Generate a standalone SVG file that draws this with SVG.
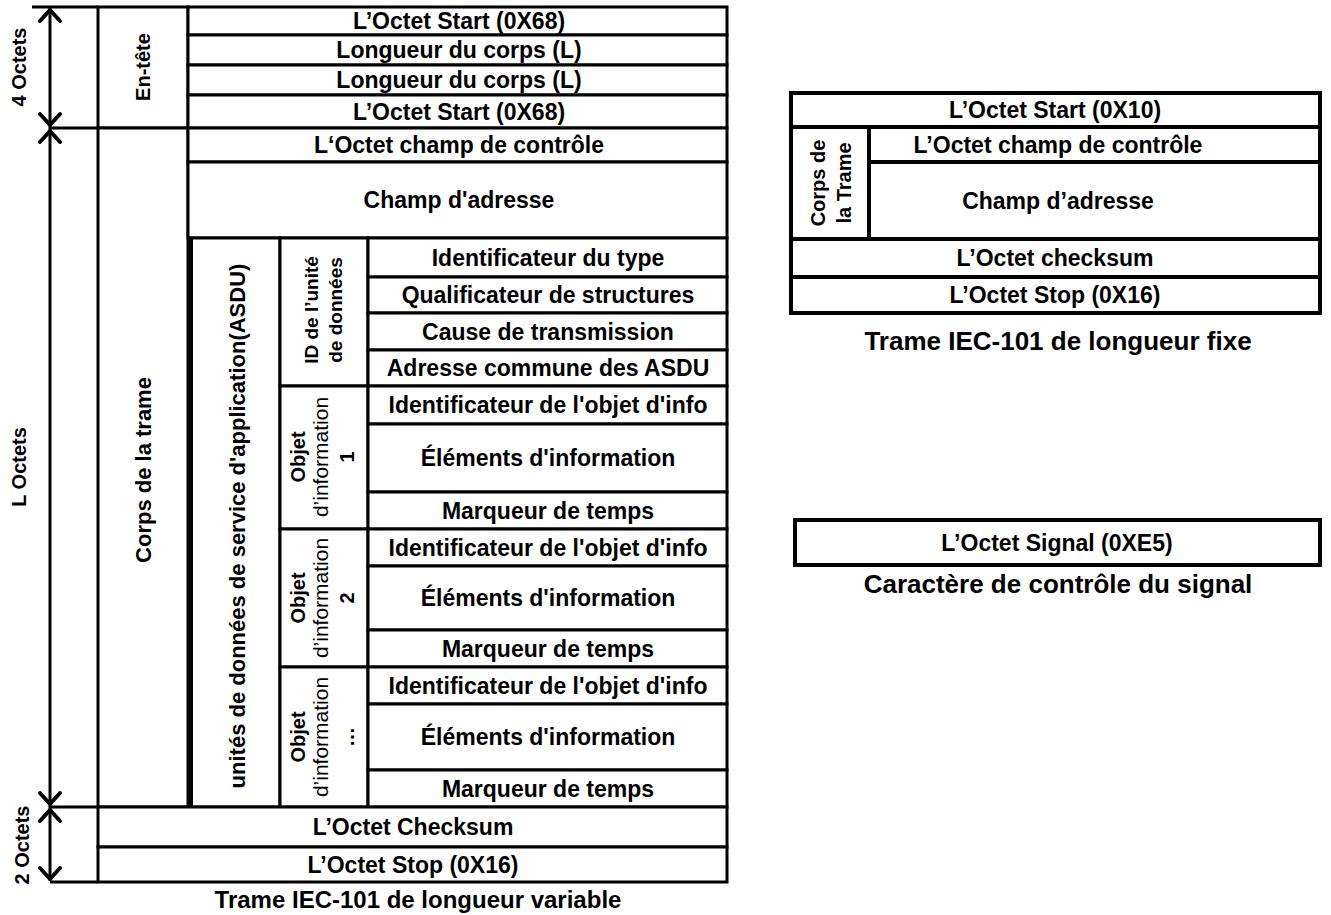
<svg xmlns="http://www.w3.org/2000/svg" width="1331" height="915" viewBox="0 0 1331 915">
<style>
  .c{fill:#fff;stroke:#000;stroke-width:3}
  .f{fill:#fff;stroke:#000;stroke-width:4}
  .ln{fill:none;stroke:#000;stroke-width:3}
  .hd{fill:none;stroke:#000;stroke-width:4;stroke-linecap:round;stroke-linejoin:round}
  text{font-family:"Liberation Sans",Arial,sans-serif;font-weight:bold;fill:#000;text-anchor:middle;dominant-baseline:central}
  .t{font-size:23px}
  .cap{font-size:26px}
  .v{font-size:20px}
  .s{font-size:19px}
  .n{font-weight:normal;font-size:21px}
</style>
<rect width="1331" height="915" fill="#fff"/>

<!-- dimension arrows on the left -->
<g id="connectors">
  <line class="ln" x1="32" y1="7" x2="98" y2="7"/>
  <line class="ln" x1="50" y1="128" x2="98" y2="128"/>
  <line class="ln" x1="50" y1="807" x2="98" y2="807"/>
  <line class="ln" x1="50" y1="882" x2="98" y2="882"/>
  <line class="ln" x1="50" y1="8" x2="50" y2="881"/>
  <polyline class="hd" points="40,21 50,10 60,21"/>
  <polyline class="hd" points="40,114 50,125 60,114"/>
  <polyline class="hd" points="40,142 50,131 60,142"/>
  <polyline class="hd" points="40,793 50,804 60,793"/>
  <polyline class="hd" points="40,821 50,810 60,821"/>
  <polyline class="hd" points="40,868 50,879 60,868"/>
</g>
<g id="dim-4">
  <text class="v" transform="translate(19,67) rotate(-90)">4 Octets</text>
</g>
<g id="dim-l">
  <text class="v" transform="translate(19,467) rotate(-90)">L Octets</text>
</g>
<g id="dim-2">
  <text class="v" transform="translate(22,845) rotate(-90)">2 Octets</text>
</g>

<!-- variable-length frame -->
<g id="entete"><rect class="c" x="98" y="7" width="90" height="121"/>
  <text class="v" transform="translate(143,67) rotate(-90)">En-tête</text></g>
<g id="corps"><rect class="c" x="98" y="128" width="90" height="679"/>
  <text class="t" transform="translate(143,470) rotate(-90)" style="font-size:22px">Corps de la trame</text></g>

<g id="start1"><rect class="c" x="188" y="7" width="539" height="28"/>
  <text class="t" x="459" y="21">L’Octet Start (0X68)</text></g>
<g id="len1"><rect class="c" x="188" y="35" width="539" height="30"/>
  <text class="t" x="459" y="50">Longueur du corps (L)</text></g>
<g id="len2"><rect class="c" x="188" y="65" width="539" height="30"/>
  <text class="t" x="459" y="80">Longueur du corps (L)</text></g>
<g id="start2"><rect class="c" x="188" y="95" width="539" height="33"/>
  <text class="t" x="459" y="111.5">L’Octet Start (0X68)</text></g>
<g id="ctrl"><rect class="c" x="188" y="128" width="539" height="34"/>
  <text class="t" x="459" y="145">L‘Octet champ de contrôle</text></g>
<g id="addr"><rect class="c" x="188" y="162" width="539" height="76"/>
  <text class="t" x="459" y="200">Champ d'adresse</text></g>

<g id="asdu"><rect class="c" x="190" y="238" width="90" height="569"/>
  <line x1="190" y1="238" x2="190" y2="807" stroke="#000" stroke-width="6"/>
  <text class="t" transform="translate(237,526) rotate(-90)" style="font-size:22px">unités de données de service d'application(ASDU)</text></g>

<g id="id-unite"><rect class="c" x="280" y="238" width="88" height="148"/>
  <text class="s" transform="translate(311,310) rotate(-90)">ID de l’unité</text>
  <text class="s" transform="translate(335,310) rotate(-90)">de données</text></g>
<g id="objet1"><rect class="c" x="280" y="386" width="88" height="143"/>
  <text class="v" transform="translate(298,457) rotate(-90)">Objet</text>
  <text class="n" transform="translate(320,457) rotate(-90)">d’information</text>
  <text class="v" transform="translate(347,457) rotate(-90)">1</text></g>
<g id="objet2"><rect class="c" x="280" y="529" width="88" height="138"/>
  <text class="v" transform="translate(298,598) rotate(-90)">Objet</text>
  <text class="n" transform="translate(320,598) rotate(-90)">d’information</text>
  <text class="v" transform="translate(347,598) rotate(-90)">2</text></g>
<g id="objet3"><rect class="c" x="280" y="667" width="88" height="140"/>
  <text class="v" transform="translate(298,737) rotate(-90)">Objet</text>
  <text class="n" transform="translate(320,737) rotate(-90)">d’information</text>
  <text class="v" transform="translate(347,737) rotate(-90)">…</text></g>

<g id="type"><rect class="c" x="368" y="238" width="359" height="39"/>
  <text class="t" x="548" y="258">Identificateur du type</text></g>
<g id="qualif"><rect class="c" x="368" y="277" width="359" height="36"/>
  <text class="t" x="548" y="295">Qualificateur de structures</text></g>
<g id="cause"><rect class="c" x="368" y="313" width="359" height="37"/>
  <text class="t" x="548" y="331.5">Cause de transmission</text></g>
<g id="commune"><rect class="c" x="368" y="350" width="359" height="36"/>
  <text class="t" x="548" y="368">Adresse commune des ASDU</text></g>

<g id="o1-id"><rect class="c" x="368" y="386" width="359" height="38"/>
  <text class="t" x="548" y="405">Identificateur de l'objet d'info</text></g>
<g id="o1-el"><rect class="c" x="368" y="424" width="359" height="68"/>
  <text class="t" x="548" y="458">Éléments d'information</text></g>
<g id="o1-tm"><rect class="c" x="368" y="492" width="359" height="37"/>
  <text class="t" x="548" y="510.5">Marqueur de temps</text></g>

<g id="o2-id"><rect class="c" x="368" y="529" width="359" height="37"/>
  <text class="t" x="548" y="547.5">Identificateur de l'objet d'info</text></g>
<g id="o2-el"><rect class="c" x="368" y="566" width="359" height="64"/>
  <text class="t" x="548" y="598">Éléments d'information</text></g>
<g id="o2-tm"><rect class="c" x="368" y="630" width="359" height="37"/>
  <text class="t" x="548" y="648.5">Marqueur de temps</text></g>

<g id="o3-id"><rect class="c" x="368" y="667" width="359" height="37"/>
  <text class="t" x="548" y="685.5">Identificateur de l'objet d'info</text></g>
<g id="o3-el"><rect class="c" x="368" y="704" width="359" height="66"/>
  <text class="t" x="548" y="737">Éléments d'information</text></g>
<g id="o3-tm"><rect class="c" x="368" y="770" width="359" height="37"/>
  <text class="t" x="548" y="788.5">Marqueur de temps</text></g>

<g id="checksum"><rect class="c" x="98" y="807" width="629" height="40"/>
  <text class="t" x="413" y="827">L’Octet Checksum</text></g>
<g id="stop"><rect class="c" x="98" y="847" width="629" height="35"/>
  <text class="t" x="413" y="864.5">L’Octet Stop (0X16)</text></g>
<g id="cap-var"><text class="cap" x="418" y="899" style="font-size:24px">Trame IEC-101 de longueur variable</text></g>

<!-- fixed-length frame -->
<g id="f-start"><rect class="f" x="791" y="93" width="529" height="34"/>
  <text class="t" x="1055" y="110">L’Octet Start (0X10)</text></g>
<g id="f-corps"><rect class="f" x="791" y="127" width="78" height="112"/>
  <text class="v" transform="translate(818,183) rotate(-90)">Corps de</text>
  <text class="v" transform="translate(844,183) rotate(-90)">la Trame</text></g>
<g id="f-ctrl"><rect class="f" x="869" y="127" width="451" height="35"/>
  <text class="t" x="1058" y="145">L’Octet champ de contrôle</text></g>
<g id="f-addr"><rect class="f" x="869" y="162" width="451" height="77"/>
  <text class="t" x="1058" y="201">Champ d’adresse</text></g>
<g id="f-check"><rect class="f" x="791" y="239" width="529" height="38"/>
  <text class="t" x="1055" y="258">L’Octet checksum</text></g>
<g id="f-stop"><rect class="f" x="791" y="277" width="529" height="36"/>
  <text class="t" x="1055" y="295">L’Octet Stop (0X16)</text></g>
<g id="cap-fixe"><text class="cap" x="1058" y="341">Trame IEC-101 de longueur fixe</text></g>

<!-- single control character -->
<g id="signal"><rect class="f" x="795" y="520" width="525" height="45"/>
  <text class="t" x="1057" y="543">L’Octet Signal (0XE5)</text></g>
<g id="cap-signal"><text class="cap" x="1058" y="584">Caractère de contrôle du signal</text></g>
</svg>
